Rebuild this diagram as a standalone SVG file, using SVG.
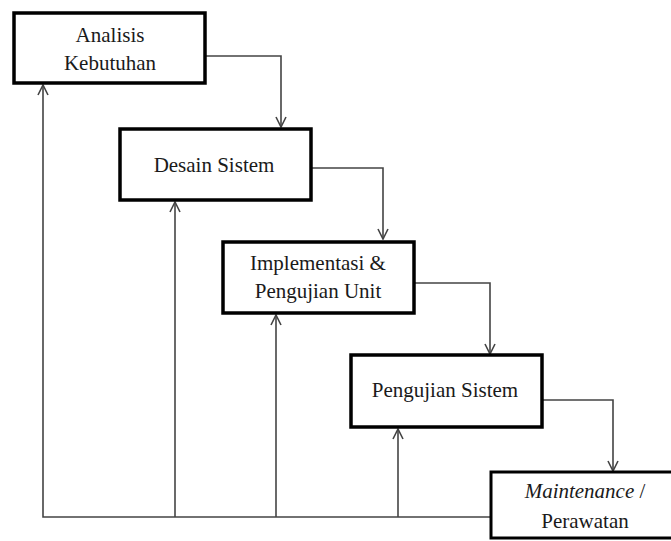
<svg xmlns="http://www.w3.org/2000/svg" width="671" height="541" viewBox="0 0 671 541">
<defs>
<style>
.box{fill:#fff;stroke:#000;stroke-width:3.5}
.box5{fill:#fff;stroke:#000;stroke-width:3}
text{font-family:'Liberation Serif','Times New Roman',Times,serif;font-size:21px;fill:#1a1a1a;text-anchor:middle}
.c{fill:none;stroke:#444;stroke-width:1.6}
</style>
<marker id="ah" viewBox="0 0 12 12" refX="11" refY="6" markerWidth="12" markerHeight="12" markerUnits="userSpaceOnUse" orient="auto">
<path d="M1,1 L11,6 L1,11" fill="none" stroke="#444" stroke-width="1.6"/>
</marker>
</defs>
<rect width="671" height="541" fill="#fff"/>
<g id="connectors">
<path class="c" d="M206,56 H281 V127" marker-end="url(#ah)"/>
<path class="c" d="M312,168 H383 V239" marker-end="url(#ah)"/>
<path class="c" d="M415,283 H490 V354" marker-end="url(#ah)"/>
<path class="c" d="M543,400 H613 V471" marker-end="url(#ah)"/>
<path class="c" d="M490,517 H43 V85" marker-end="url(#ah)"/>
<path class="c" d="M175,517 V202" marker-end="url(#ah)"/>
<path class="c" d="M276,517 V315" marker-end="url(#ah)"/>
<path class="c" d="M398,517 V429" marker-end="url(#ah)"/>
</g>
<g id="analisis">
<rect class="box" x="14" y="13" width="191" height="70"/>
<text x="110" y="42">Analisis</text>
<text x="110" y="70">Kebutuhan</text>
</g>
<g id="desain">
<rect class="box" x="120" y="129" width="191" height="71"/>
<text x="214" y="172">Desain Sistem</text>
</g>
<g id="implementasi">
<rect class="box" x="223" y="242" width="191" height="71"/>
<text x="318" y="270">Implementasi &amp;</text>
<text x="318" y="298">Pengujian Unit</text>
</g>
<g id="pengujian">
<rect class="box" x="351" y="355" width="191" height="72"/>
<text x="445" y="397">Pengujian Sistem</text>
</g>
<g id="maintenance">
<rect class="box5" x="491" y="472" width="200" height="66"/>
<text x="585" y="498"><tspan font-style="italic">Maintenance</tspan> /</text>
<text x="585" y="528">Perawatan</text>
</g>
</svg>
